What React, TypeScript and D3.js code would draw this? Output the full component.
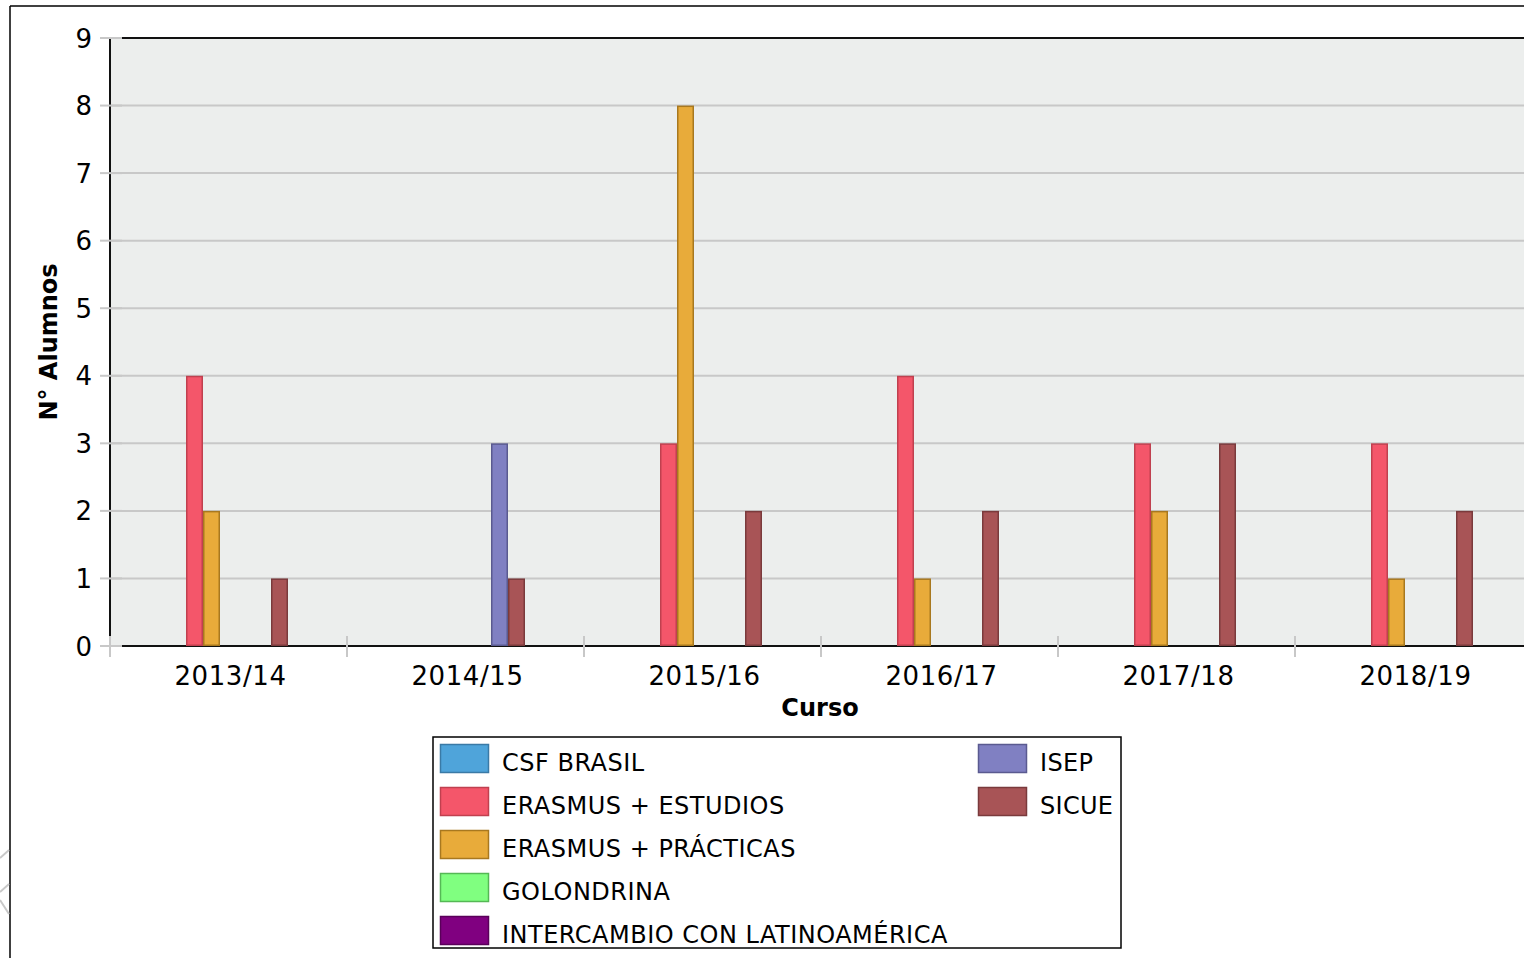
import React from "react";
import * as d3 from "d3";

const categories = ["2013/14", "2014/15", "2015/16", "2016/17", "2017/18", "2018/19"];
const seriesNames = [
  "CSF BRASIL",
  "ERASMUS + ESTUDIOS",
  "ERASMUS + PRÁCTICAS",
  "GOLONDRINA",
  "INTERCAMBIO CON LATINOAMÉRICA",
  "ISEP",
  "SICUE",
];
const csfBrasil = [0, 0, 0, 0, 0, 0];
const erasmusEstudios = [4, 0, 3, 4, 3, 3];
const erasmusPracticas = [2, 0, 8, 1, 2, 1];
const golondrina = [0, 0, 0, 0, 0, 0];
const intercambio = [0, 0, 0, 0, 0, 0];
const isep = [0, 3, 0, 0, 0, 0];
const sicue = [1, 1, 2, 2, 3, 2];
const seriesValues = [csfBrasil, erasmusEstudios, erasmusPracticas, golondrina, intercambio, isep, sicue];
const fills = ["#4fa4da", "#f4566a", "#e8ab3a", "#80ff80", "#800080", "#8080c2", "#a85456"];
const strokes = ["#3a7aa6", "#c0404f", "#a8781f", "#55b855", "#5a005a", "#5a5a90", "#7a3a3c"];
const yTicks = [0, 1, 2, 3, 4, 5, 6, 7, 8, 9];

const FONT = "'DejaVu Sans', sans-serif";

export default function App() {
  const left = 110, right = 1532, top = 38, bottom = 646;
  const x = d3.scaleBand<string>().domain(categories).range([left, right]);
  const inner = d3.scaleBand<string>().domain(seriesNames).range([0, 119]);
  const groupPad = (x.bandwidth() - 119) / 2;
  const y = d3.scaleLinear().domain([0, 9]).range([bottom, top]);

  const legendLeft = seriesNames.slice(0, 5);
  const legendRight = seriesNames.slice(5);

  return (
    <svg width={1524} height={958} style={{ position: "absolute", left: 0, top: 0, background: "#fff" }}>
      {/* outer frame */}
      <line x1={10} x2={1524} y1={6} y2={6} stroke="#000" strokeWidth={1.5} />
      <line x1={10} x2={10} y1={6} y2={958} stroke="#000" strokeWidth={1.5} />
      {/* faint artifact at left edge */}
      <g stroke="#c8c8c8" strokeWidth={2} fill="none">
        <path d="M0,858 L9,850" />
        <path d="M0,892 L9,884" />
        <path d="M0,900 L9,914" />
      </g>
      {/* plot background */}
      <rect x={left} y={top} width={right - left} height={bottom - top} fill="#eceeed" />
      {/* gridlines */}
      {yTicks.map((t) => (
        <line key={"g" + t} x1={left} x2={right} y1={y(t)} y2={y(t)} stroke="#c8c8c8" strokeWidth={2} />
      ))}
      {/* top border and axes */}
      <line x1={left} x2={right} y1={top} y2={top} stroke="#111" strokeWidth={2} />
      <line x1={left} x2={left} y1={top} y2={bottom} stroke="#111" strokeWidth={2} />
      <line x1={left} x2={right} y1={bottom} y2={bottom} stroke="#111" strokeWidth={2} />
      {/* bars */}
      {categories.map((c, ci) => (
        <g key={c}>
          {seriesNames.map((s, si) => {
            const v = seriesValues[si][ci];
            if (!v) return null;
            const bx = (x(c) as number) + groupPad + (inner(s) as number);
            return (
              <rect
                key={s}
                x={bx + 0.75}
                y={y(v) + 0.75}
                width={inner.bandwidth() - 1.5}
                height={y(0) - y(v) - 1.5}
                fill={fills[si]}
                stroke={strokes[si]}
                strokeWidth={1.5}
              />
            );
          })}
        </g>
      ))}
      {/* y ticks */}
      {yTicks.map((t) => (
        <g key={"t" + t}>
          <line x1={100} x2={122} y1={y(t)} y2={y(t)} stroke="#c8c8c8" strokeWidth={2} />
          <text x={92} y={y(t) + 9.5} textAnchor="end" fontFamily={FONT} fontSize={26} fill="#000">
            {t}
          </text>
        </g>
      ))}
      {/* x ticks at category boundaries */}
      {categories.map((c) => (
        <line key={"xt" + c} x1={x(c) as number} x2={x(c) as number} y1={636} y2={657} stroke="#c8c8c8" strokeWidth={2} />
      ))}
      {categories.map((c) => (
        <text
          key={"xl" + c}
          x={(x(c) as number) + x.bandwidth() / 2 + 2}
          y={685}
          textAnchor="middle"
          fontFamily={FONT}
          fontSize={26}
          letterSpacing={0.6}
          fill="#000"
        >
          {c}
        </text>
      ))}
      {/* axis titles */}
      <text x={820} y={716} textAnchor="middle" fontFamily={FONT} fontSize={24} fontWeight="bold">
        Curso
      </text>
      <text
        transform={`translate(57, ${(top + bottom) / 2}) rotate(-90)`}
        textAnchor="middle"
        fontFamily={FONT}
        fontSize={24}
        fontWeight="bold"
      >
        N° Alumnos
      </text>
      {/* legend */}
      <rect x={433} y={737} width={688} height={211} fill="#fff" stroke="#000" strokeWidth={1.5} />
      {legendLeft.map((s, i) => {
        const si = seriesNames.indexOf(s);
        return (
          <g key={s}>
            <rect x={440.5} y={744.5 + i * 43} width={48} height={28} fill={fills[si]} stroke={strokes[si]} strokeWidth={1.5} />
            <text x={502} y={771 + i * 43} fontFamily={FONT} fontSize={24} letterSpacing={0.5} fill="#000">
              {s}
            </text>
          </g>
        );
      })}
      {legendRight.map((s, i) => {
        const si = seriesNames.indexOf(s);
        return (
          <g key={s}>
            <rect x={978.5} y={744.5 + i * 43} width={48} height={28} fill={fills[si]} stroke={strokes[si]} strokeWidth={1.5} />
            <text x={1040} y={771 + i * 43} fontFamily={FONT} fontSize={24} letterSpacing={0.3} fill="#000">
              {s}
            </text>
          </g>
        );
      })}
    </svg>
  );
}
